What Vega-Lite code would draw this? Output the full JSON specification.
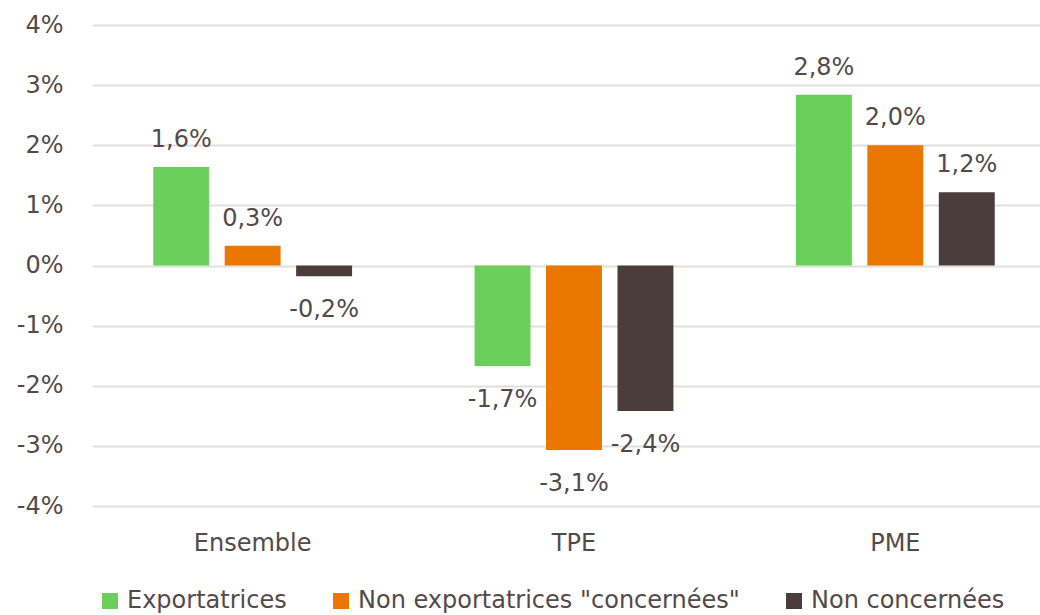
{
  "$schema": "https://vega.github.io/schema/vega-lite/v6.json",
  "width": 948,
  "height": 481,
  "autosize": {"type": "none"},
  "padding": {"left": 92, "top": 25, "right": 0, "bottom": 109},
  "background": "white",
  "config": {
    "locale": {"number": {"decimal": ",", "thousands": " ", "grouping": [3], "currency": ["", " €"], "minus": "-", "percent": "%"}},
    "view": {"stroke": null},
    "font": "DejaVu Sans",
    "text": {"font": "DejaVu Sans"}
  },
  "data": {
    "values": [
      {"groupe": "Ensemble", "type": "Exportatrices", "valeur": 0.0164},
      {"groupe": "Ensemble", "type": "Non exportatrices \"concernées\"", "valeur": 0.0033},
      {"groupe": "Ensemble", "type": "Non concernées", "valeur": -0.0018},
      {"groupe": "TPE", "type": "Exportatrices", "valeur": -0.0167},
      {"groupe": "TPE", "type": "Non exportatrices \"concernées\"", "valeur": -0.0307},
      {"groupe": "TPE", "type": "Non concernées", "valeur": -0.0242},
      {"groupe": "PME", "type": "Exportatrices", "valeur": 0.0284},
      {"groupe": "PME", "type": "Non exportatrices \"concernées\"", "valeur": 0.02},
      {"groupe": "PME", "type": "Non concernées", "valeur": 0.0122}
    ]
  },
  "encoding": {
    "x": {
      "field": "groupe", "type": "nominal", "sort": ["Ensemble", "TPE", "PME"],
      "scale": {"range": [0, 964], "paddingInner": 0.333, "paddingOuter": 0.1665},
      "axis": {"title": null, "labelAngle": 0, "domain": false, "ticks": false, "grid": false, "labelPadding": 25, "labelFontSize": 24, "labelColor": "#544a4a", "labelFont": "DejaVu Sans", "labelFontWeight": 400}
    },
    "xOffset": {
      "field": "type", "type": "nominal",
      "sort": ["Exportatrices", "Non exportatrices \"concernées\"", "Non concernées"],
      "scale": {"paddingInner": 0.217, "paddingOuter": 0.1085}
    },
    "y": {
      "field": "valeur", "type": "quantitative",
      "scale": {"domain": [-0.04, 0.04], "nice": false},
      "axis": {"title": null, "format": ".0%", "values": [-0.04, -0.03, -0.02, -0.01, 0, 0.01, 0.02, 0.03, 0.04], "domain": false, "ticks": false, "labelPadding": 29, "labelFontSize": 24, "labelColor": "#544a4a", "labelFont": "DejaVu Sans", "labelFontWeight": 400, "gridColor": "#e2dede", "gridWidth": 2}
    }
  },
  "layer": [
    {
      "mark": {"type": "bar"},
      "encoding": {
        "color": {
          "field": "type", "type": "nominal",
          "sort": ["Exportatrices", "Non exportatrices \"concernées\"", "Non concernées"],
          "scale": {"domain": ["Exportatrices", "Non exportatrices \"concernées\"", "Non concernées"], "range": ["#6bcf5b", "#ea7700", "#4a3d3c"]},
          "legend": {"title": null, "orient": "none", "legendX": 6, "legendY": 564, "padding": 0, "direction": "horizontal", "symbolType": "square", "symbolSize": 256, "symbolStrokeWidth": 0, "labelFontSize": 24, "labelColor": "#544a4a", "labelFont": "DejaVu Sans", "labelFontWeight": 400, "labelOffset": 5, "columnPadding": 42, "labelLimit": 0}
        }
      }
    },
    {
      "transform": [{"filter": "datum.valeur >= 0"}],
      "mark": {"type": "text", "baseline": "alphabetic", "dy": -20, "fontSize": 24, "fontWeight": 400, "color": "#544a4a", "font": "DejaVu Sans"},
      "encoding": {"text": {"field": "valeur", "type": "quantitative", "format": ".1%"}}
    },
    {
      "transform": [{"filter": "datum.valeur < 0"}],
      "mark": {"type": "text", "baseline": "alphabetic", "dy": 41, "fontSize": 24, "fontWeight": 400, "color": "#544a4a", "font": "DejaVu Sans"},
      "encoding": {"text": {"field": "valeur", "type": "quantitative", "format": ".1%"}}
    }
  ]
}
